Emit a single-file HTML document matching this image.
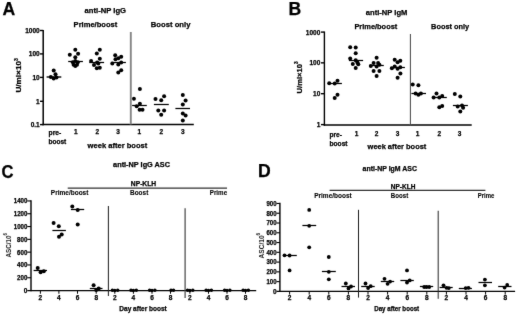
<!DOCTYPE html>
<html><head><meta charset="utf-8"><title>Figure</title>
<style>
html,body{margin:0;padding:0;background:#fff;}
body{width:520px;height:315px;overflow:hidden;}
svg{display:block;font-family:'Liberation Sans', Arial, Helvetica, sans-serif;}
</style></head><body>
<svg width="520" height="315" viewBox="0 0 520 315" font-family="'Liberation Sans', Arial, Helvetica, sans-serif" fill="#000">
<defs><filter id="soft" x="0" y="0" width="520" height="315" filterUnits="userSpaceOnUse"><feConvolveMatrix order="3" kernelMatrix="0.01 0.06 0.01 0.06 0.72 0.06 0.01 0.06 0.01" divisor="1" edgeMode="none" preserveAlpha="false"/></filter></defs>
<rect width="520" height="315" fill="#fff"/>
<g filter="url(#soft)">
<text stroke="#000" stroke-width="0.25" x="2.5" y="15" font-size="17.6" text-anchor="start" font-weight="bold" >A</text>
<text stroke="#000" stroke-width="0.25" x="84.6" y="13.3" font-size="7.5" text-anchor="start" font-weight="bold" textLength="41.4" lengthAdjust="spacingAndGlyphs" >anti-NP IgG</text>
<text stroke="#000" stroke-width="0.25" x="73.6" y="27.2" font-size="7.5" text-anchor="start" font-weight="bold" textLength="43.7" lengthAdjust="spacingAndGlyphs" >Prime/boost</text>
<text stroke="#000" stroke-width="0.25" x="150.8" y="27.1" font-size="7.5" text-anchor="start" font-weight="bold" textLength="39.6" lengthAdjust="spacingAndGlyphs" >Boost only</text>
<line x1="43.2" y1="29.9" x2="43.2" y2="125.15" stroke="#000" stroke-width="1.5"/>
<line x1="42.45" y1="124.4" x2="193.8" y2="124.4" stroke="#000" stroke-width="1.5"/>
<line x1="40.0" y1="30.5" x2="43.2" y2="30.5" stroke="#000" stroke-width="1.4"/>
<text stroke="#000" stroke-width="0.25" x="39.7" y="32.9" font-size="6.5" text-anchor="end" font-weight="bold" >1000</text>
<line x1="40.0" y1="53.9" x2="43.2" y2="53.9" stroke="#000" stroke-width="1.4"/>
<text stroke="#000" stroke-width="0.25" x="39.7" y="56.3" font-size="6.5" text-anchor="end" font-weight="bold" >100</text>
<line x1="40.0" y1="77.4" x2="43.2" y2="77.4" stroke="#000" stroke-width="1.4"/>
<text stroke="#000" stroke-width="0.25" x="39.7" y="79.80000000000001" font-size="6.5" text-anchor="end" font-weight="bold" >10</text>
<line x1="40.0" y1="101.3" x2="43.2" y2="101.3" stroke="#000" stroke-width="1.4"/>
<text stroke="#000" stroke-width="0.25" x="39.7" y="103.7" font-size="6.5" text-anchor="end" font-weight="bold" >1</text>
<line x1="40.0" y1="124.6" x2="43.2" y2="124.6" stroke="#000" stroke-width="1.4"/>
<text stroke="#000" stroke-width="0.25" x="39.7" y="127.0" font-size="6.5" text-anchor="end" font-weight="bold" >0.1</text>
<line x1="130.8" y1="32" x2="130.8" y2="124.4" stroke="#858585" stroke-width="1.9"/>
<text transform="translate(21.4,92.6) rotate(-90)" font-size="7.5" font-weight="bold" textLength="34.4" lengthAdjust="spacingAndGlyphs" stroke="#000" stroke-width="0.25">U/ml×10<tspan font-size="4.6" dy="-3.9">3</tspan></text>
<text stroke="#000" stroke-width="0.25" x="48.6" y="135.4" font-size="6.5" text-anchor="start" font-weight="bold" textLength="12.7" lengthAdjust="spacingAndGlyphs" >pre-</text>
<text stroke="#000" stroke-width="0.25" x="48.6" y="144.3" font-size="6.5" text-anchor="start" font-weight="bold" textLength="17.7" lengthAdjust="spacingAndGlyphs" >boost</text>
<text stroke="#000" stroke-width="0.25" x="75.9" y="134" font-size="6.5" text-anchor="middle" font-weight="bold" >1</text>
<text stroke="#000" stroke-width="0.25" x="97.3" y="134" font-size="6.5" text-anchor="middle" font-weight="bold" >2</text>
<text stroke="#000" stroke-width="0.25" x="118.1" y="134" font-size="6.5" text-anchor="middle" font-weight="bold" >3</text>
<text stroke="#000" stroke-width="0.25" x="139.2" y="134" font-size="6.5" text-anchor="middle" font-weight="bold" >1</text>
<text stroke="#000" stroke-width="0.25" x="161.2" y="134" font-size="6.5" text-anchor="middle" font-weight="bold" >2</text>
<text stroke="#000" stroke-width="0.25" x="182.8" y="134" font-size="6.5" text-anchor="middle" font-weight="bold" >3</text>
<text stroke="#000" stroke-width="0.25" x="87.6" y="148.2" font-size="7.5" text-anchor="start" font-weight="bold" textLength="59.7" lengthAdjust="spacingAndGlyphs" >week after boost</text>
<line x1="46.6" y1="77.0" x2="61.3" y2="77.0" stroke="#000" stroke-width="1.4"/>
<circle cx="53.7" cy="70.6" r="2.0"/>
<circle cx="55.5" cy="74.3" r="2.0"/>
<circle cx="50.8" cy="76.9" r="2.0"/>
<circle cx="56.5" cy="77.4" r="2.0"/>
<circle cx="53.7" cy="78.4" r="2.0"/>
<line x1="68.2" y1="61.5" x2="82.9" y2="61.5" stroke="#000" stroke-width="1.25"/>
<circle cx="75.3" cy="49.7" r="2.0"/>
<circle cx="78.1" cy="53.7" r="2.0"/>
<circle cx="69.8" cy="54.8" r="2.0"/>
<circle cx="75.3" cy="57.2" r="2.0"/>
<circle cx="72.8" cy="62.2" r="2.0"/>
<circle cx="75.3" cy="61.0" r="2.0"/>
<circle cx="77.8" cy="62.2" r="2.0"/>
<circle cx="73.6" cy="64.8" r="2.0"/>
<circle cx="77.0" cy="64.8" r="2.0"/>
<circle cx="75.3" cy="66.0" r="2.0"/>
<line x1="89.3" y1="62.5" x2="104.1" y2="62.5" stroke="#000" stroke-width="1.25"/>
<circle cx="99.8" cy="49.7" r="2.0"/>
<circle cx="96.8" cy="53.6" r="2.0"/>
<circle cx="99.8" cy="58.8" r="2.0"/>
<circle cx="91.1" cy="60.9" r="2.0"/>
<circle cx="97.1" cy="62.6" r="2.0"/>
<circle cx="94" cy="65" r="2.0"/>
<circle cx="98.3" cy="63.5" r="2.0"/>
<circle cx="96.8" cy="68.2" r="2.0"/>
<circle cx="99.8" cy="67.8" r="2.0"/>
<line x1="111" y1="62.5" x2="125.9" y2="62.5" stroke="#000" stroke-width="1.25"/>
<circle cx="115.2" cy="55.2" r="2.0"/>
<circle cx="121.2" cy="56.8" r="2.0"/>
<circle cx="118.3" cy="58.2" r="2.0"/>
<circle cx="115.5" cy="59.3" r="2.0"/>
<circle cx="121.2" cy="62.6" r="2.0"/>
<circle cx="112.3" cy="63.5" r="2.0"/>
<circle cx="118.3" cy="64.4" r="2.0"/>
<circle cx="121.2" cy="70.2" r="2.0"/>
<circle cx="118.3" cy="72.4" r="2.0"/>
<line x1="132" y1="105.5" x2="146.8" y2="105.5" stroke="#000" stroke-width="1.25"/>
<circle cx="139.9" cy="89.1" r="2.0"/>
<circle cx="133.9" cy="98.8" r="2.0"/>
<circle cx="139.9" cy="103.7" r="2.0"/>
<circle cx="136.7" cy="106.3" r="2.0"/>
<circle cx="139.6" cy="109.8" r="2.0"/>
<circle cx="142.5" cy="109.8" r="2.0"/>
<line x1="153.9" y1="104.5" x2="168.8" y2="104.5" stroke="#000" stroke-width="1.25"/>
<circle cx="164.1" cy="96.2" r="2.0"/>
<circle cx="155.5" cy="99" r="2.0"/>
<circle cx="161.2" cy="100.3" r="2.0"/>
<circle cx="158.3" cy="110.5" r="2.0"/>
<circle cx="164.1" cy="110.5" r="2.0"/>
<circle cx="161.2" cy="114.7" r="2.0"/>
<line x1="175.4" y1="108.5" x2="190" y2="108.5" stroke="#000" stroke-width="1.25"/>
<circle cx="182.8" cy="95.1" r="2.0"/>
<circle cx="185.6" cy="100.4" r="2.0"/>
<circle cx="182.8" cy="104.6" r="2.0"/>
<circle cx="182.8" cy="113.4" r="2.0"/>
<circle cx="185.6" cy="115.5" r="2.0"/>
<circle cx="182.8" cy="120.6" r="2.0"/>
<text stroke="#000" stroke-width="0.25" x="288.4" y="15" font-size="17.6" text-anchor="start" font-weight="bold" >B</text>
<text stroke="#000" stroke-width="0.25" x="365.8" y="14.5" font-size="7.5" text-anchor="start" font-weight="bold" textLength="41.6" lengthAdjust="spacingAndGlyphs" >anti-NP IgM</text>
<text stroke="#000" stroke-width="0.25" x="354.4" y="28.9" font-size="7.5" text-anchor="start" font-weight="bold" textLength="42.9" lengthAdjust="spacingAndGlyphs" >Prime/boost</text>
<text stroke="#000" stroke-width="0.25" x="431.1" y="28.9" font-size="7.5" text-anchor="start" font-weight="bold" textLength="38.1" lengthAdjust="spacingAndGlyphs" >Boost only</text>
<line x1="324.4" y1="31.5" x2="324.4" y2="125.7" stroke="#000" stroke-width="1.4"/>
<line x1="323.7" y1="125.0" x2="471.7" y2="125.0" stroke="#000" stroke-width="1.4"/>
<line x1="321.0" y1="32.1" x2="324.4" y2="32.1" stroke="#000" stroke-width="1.4"/>
<text stroke="#000" stroke-width="0.25" x="320.3" y="34.5" font-size="6.5" text-anchor="end" font-weight="bold" >1000</text>
<line x1="321.0" y1="62.85" x2="324.4" y2="62.85" stroke="#000" stroke-width="1.4"/>
<text stroke="#000" stroke-width="0.25" x="320.3" y="65.25" font-size="6.5" text-anchor="end" font-weight="bold" >100</text>
<line x1="321.0" y1="93.7" x2="324.4" y2="93.7" stroke="#000" stroke-width="1.4"/>
<text stroke="#000" stroke-width="0.25" x="320.3" y="96.10000000000001" font-size="6.5" text-anchor="end" font-weight="bold" >10</text>
<line x1="321.0" y1="124.6" x2="324.4" y2="124.6" stroke="#000" stroke-width="1.4"/>
<text stroke="#000" stroke-width="0.25" x="320.3" y="127.0" font-size="6.5" text-anchor="end" font-weight="bold" >1</text>
<line x1="410.4" y1="34" x2="410.4" y2="125.0" stroke="#444" stroke-width="1.0"/>
<text transform="translate(301.9,93.4) rotate(-90)" font-size="7.5" font-weight="bold" textLength="32" lengthAdjust="spacingAndGlyphs" stroke="#000" stroke-width="0.25">U/ml×10<tspan font-size="4.6" dy="-3.9">3</tspan></text>
<text stroke="#000" stroke-width="0.25" x="329.5" y="136.7" font-size="6.5" text-anchor="start" font-weight="bold" textLength="12.4" lengthAdjust="spacingAndGlyphs" >pre-</text>
<text stroke="#000" stroke-width="0.25" x="329.5" y="145.7" font-size="6.5" text-anchor="start" font-weight="bold" textLength="18.1" lengthAdjust="spacingAndGlyphs" >boost</text>
<text stroke="#000" stroke-width="0.25" x="356.5" y="136" font-size="6.5" text-anchor="middle" font-weight="bold" >1</text>
<text stroke="#000" stroke-width="0.25" x="376.6" y="136" font-size="6.5" text-anchor="middle" font-weight="bold" >2</text>
<text stroke="#000" stroke-width="0.25" x="397.6" y="136" font-size="6.5" text-anchor="middle" font-weight="bold" >3</text>
<text stroke="#000" stroke-width="0.25" x="417.5" y="136" font-size="6.5" text-anchor="middle" font-weight="bold" >1</text>
<text stroke="#000" stroke-width="0.25" x="439.3" y="136" font-size="6.5" text-anchor="middle" font-weight="bold" >2</text>
<text stroke="#000" stroke-width="0.25" x="459.5" y="136" font-size="6.5" text-anchor="middle" font-weight="bold" >3</text>
<text stroke="#000" stroke-width="0.25" x="367.6" y="148.6" font-size="7.5" text-anchor="start" font-weight="bold" textLength="58.7" lengthAdjust="spacingAndGlyphs" >week after boost</text>
<line x1="327.9" y1="83.5" x2="341.9" y2="83.5" stroke="#000" stroke-width="1.25"/>
<circle cx="329.2" cy="83.3" r="2.0"/>
<circle cx="334.7" cy="83.5" r="2.0"/>
<circle cx="337.5" cy="80.7" r="2.0"/>
<circle cx="337.5" cy="94.7" r="2.0"/>
<circle cx="334.7" cy="97.9" r="2.0"/>
<line x1="348.9" y1="60.5" x2="363.1" y2="60.5" stroke="#000" stroke-width="1.25"/>
<circle cx="350.2" cy="47.2" r="2.0"/>
<circle cx="355.7" cy="47.6" r="2.0"/>
<circle cx="355.7" cy="53.3" r="2.0"/>
<circle cx="350.2" cy="58.4" r="2.0"/>
<circle cx="355.7" cy="60.3" r="2.0"/>
<circle cx="352.8" cy="63.9" r="2.0"/>
<circle cx="357.4" cy="62.4" r="2.0"/>
<circle cx="358.3" cy="64.3" r="2.0"/>
<circle cx="355.7" cy="67.9" r="2.0"/>
<line x1="369.2" y1="65.5" x2="383.8" y2="65.5" stroke="#000" stroke-width="1.25"/>
<circle cx="376.6" cy="57.8" r="2.0"/>
<circle cx="373.6" cy="62.9" r="2.0"/>
<circle cx="378.1" cy="62.9" r="2.0"/>
<circle cx="370.8" cy="66" r="2.0"/>
<circle cx="376.6" cy="66.4" r="2.0"/>
<circle cx="379.4" cy="64.8" r="2.0"/>
<circle cx="373.6" cy="71.1" r="2.0"/>
<circle cx="379.4" cy="71.1" r="2.0"/>
<circle cx="376.6" cy="75.9" r="2.0"/>
<line x1="390.1" y1="67.5" x2="404.9" y2="67.5" stroke="#000" stroke-width="1.25"/>
<circle cx="394.7" cy="59.7" r="2.0"/>
<circle cx="400.3" cy="60.7" r="2.0"/>
<circle cx="397.6" cy="62.2" r="2.0"/>
<circle cx="394.7" cy="66.4" r="2.0"/>
<circle cx="391.9" cy="68.2" r="2.0"/>
<circle cx="400.3" cy="67.3" r="2.0"/>
<circle cx="397.6" cy="68.8" r="2.0"/>
<circle cx="400.4" cy="73.6" r="2.0"/>
<circle cx="397.6" cy="77.8" r="2.0"/>
<line x1="411.4" y1="93.5" x2="426" y2="93.5" stroke="#000" stroke-width="1.25"/>
<circle cx="412.7" cy="84.6" r="2.0"/>
<circle cx="418.4" cy="85.2" r="2.0"/>
<circle cx="415.6" cy="93.5" r="2.0"/>
<circle cx="418.4" cy="94.8" r="2.0"/>
<circle cx="420.9" cy="93.5" r="2.0"/>
<line x1="432.4" y1="97.5" x2="446.8" y2="97.5" stroke="#000" stroke-width="1.25"/>
<circle cx="436.5" cy="93.6" r="2.0"/>
<circle cx="433.6" cy="97.4" r="2.0"/>
<circle cx="439.3" cy="97.4" r="2.0"/>
<circle cx="442.2" cy="96.1" r="2.0"/>
<circle cx="439.3" cy="107.2" r="2.0"/>
<circle cx="442.2" cy="106" r="2.0"/>
<line x1="452.9" y1="105.5" x2="467.9" y2="105.5" stroke="#000" stroke-width="1.25"/>
<circle cx="454.8" cy="93.9" r="2.0"/>
<circle cx="460.3" cy="96.6" r="2.0"/>
<circle cx="457.7" cy="106.4" r="2.0"/>
<circle cx="462" cy="105.6" r="2.0"/>
<circle cx="463.1" cy="107.8" r="2.0"/>
<circle cx="460.3" cy="111.4" r="2.0"/>
<text stroke="#000" stroke-width="0.25" x="1.5" y="178.2" font-size="17.6" text-anchor="start" font-weight="bold" textLength="12" lengthAdjust="spacingAndGlyphs" >C</text>
<text stroke="#000" stroke-width="0.25" x="113.1" y="166.5" font-size="6.8" text-anchor="start" font-weight="bold" textLength="56.9" lengthAdjust="spacingAndGlyphs" >anti-NP IgG ASC</text>
<text stroke="#000" stroke-width="0.25" x="130.8" y="186" font-size="6.5" text-anchor="start" font-weight="bold" textLength="25.4" lengthAdjust="spacingAndGlyphs" >NP-KLH</text>
<line x1="67.7" y1="188.1" x2="227" y2="188.1" stroke="#333" stroke-width="1.1"/>
<text stroke="#000" stroke-width="0.1" x="50.8" y="195.1" font-size="6.5" text-anchor="start" font-weight="bold" textLength="37.6" lengthAdjust="spacingAndGlyphs" >Prime/boost</text>
<text stroke="#000" stroke-width="0.1" x="130" y="195.3" font-size="6.5" text-anchor="start" font-weight="bold" textLength="18.3" lengthAdjust="spacingAndGlyphs" >Boost</text>
<text stroke="#000" stroke-width="0.1" x="209.8" y="195.3" font-size="6.5" text-anchor="start" font-weight="bold" textLength="17.3" lengthAdjust="spacingAndGlyphs" >Prime</text>
<line x1="31.0" y1="200.35" x2="31.0" y2="291.2" stroke="#000" stroke-width="1.4"/>
<line x1="27.3" y1="290.55" x2="256.2" y2="290.55" stroke="#000" stroke-width="1.3"/>
<line x1="27.3" y1="277.75" x2="31.0" y2="277.75" stroke="#000" stroke-width="1.1"/>
<text stroke="#000" stroke-width="0.25" x="27.4" y="280.15" font-size="6.5" text-anchor="end" font-weight="bold" textLength="10.3" lengthAdjust="spacingAndGlyphs" >200</text>
<line x1="27.3" y1="264.95" x2="31.0" y2="264.95" stroke="#000" stroke-width="1.1"/>
<text stroke="#000" stroke-width="0.25" x="27.4" y="267.34999999999997" font-size="6.5" text-anchor="end" font-weight="bold" textLength="10.3" lengthAdjust="spacingAndGlyphs" >400</text>
<line x1="27.3" y1="252.15" x2="31.0" y2="252.15" stroke="#000" stroke-width="1.1"/>
<text stroke="#000" stroke-width="0.25" x="27.4" y="254.55" font-size="6.5" text-anchor="end" font-weight="bold" textLength="10.3" lengthAdjust="spacingAndGlyphs" >600</text>
<line x1="27.3" y1="239.35000000000002" x2="31.0" y2="239.35000000000002" stroke="#000" stroke-width="1.1"/>
<text stroke="#000" stroke-width="0.25" x="27.4" y="241.75000000000003" font-size="6.5" text-anchor="end" font-weight="bold" textLength="10.3" lengthAdjust="spacingAndGlyphs" >800</text>
<line x1="27.3" y1="226.55" x2="31.0" y2="226.55" stroke="#000" stroke-width="1.1"/>
<text stroke="#000" stroke-width="0.25" x="27.4" y="228.95000000000002" font-size="6.5" text-anchor="end" font-weight="bold" textLength="13.6" lengthAdjust="spacingAndGlyphs" >1000</text>
<line x1="27.3" y1="213.75" x2="31.0" y2="213.75" stroke="#000" stroke-width="1.1"/>
<text stroke="#000" stroke-width="0.25" x="27.4" y="216.15" font-size="6.5" text-anchor="end" font-weight="bold" textLength="13.6" lengthAdjust="spacingAndGlyphs" >1200</text>
<line x1="27.3" y1="200.95" x2="31.0" y2="200.95" stroke="#000" stroke-width="1.1"/>
<text stroke="#000" stroke-width="0.25" x="27.4" y="203.35" font-size="6.5" text-anchor="end" font-weight="bold" textLength="13.6" lengthAdjust="spacingAndGlyphs" >1400</text>
<text stroke="#000" stroke-width="0.25" x="27.4" y="292.95" font-size="6.5" text-anchor="end" font-weight="bold" >0</text>
<text transform="translate(11.1,257.6) rotate(-90)" font-size="6.5" font-weight="bold" textLength="24.6" lengthAdjust="spacingAndGlyphs" fill="#1a1a1a">ASC/10<tspan font-size="4.6" dy="-3.7">6</tspan></text>
<line x1="40.4" y1="290.55" x2="40.4" y2="293.75" stroke="#000" stroke-width="1.0"/>
<text stroke="#000" stroke-width="0.25" x="40.4" y="299.6" font-size="6.5" text-anchor="middle" font-weight="bold" >2</text>
<line x1="58.9" y1="290.55" x2="58.9" y2="293.75" stroke="#000" stroke-width="1.0"/>
<text stroke="#000" stroke-width="0.25" x="58.9" y="299.6" font-size="6.5" text-anchor="middle" font-weight="bold" >4</text>
<line x1="77.5" y1="290.55" x2="77.5" y2="293.75" stroke="#000" stroke-width="1.0"/>
<text stroke="#000" stroke-width="0.25" x="77.5" y="299.6" font-size="6.5" text-anchor="middle" font-weight="bold" >6</text>
<line x1="96.2" y1="290.55" x2="96.2" y2="293.75" stroke="#000" stroke-width="1.0"/>
<text stroke="#000" stroke-width="0.25" x="96.2" y="299.6" font-size="6.5" text-anchor="middle" font-weight="bold" >8</text>
<line x1="114.8" y1="290.55" x2="114.8" y2="293.75" stroke="#000" stroke-width="1.0"/>
<text stroke="#000" stroke-width="0.25" x="114.8" y="299.6" font-size="6.5" text-anchor="middle" font-weight="bold" >2</text>
<line x1="133.4" y1="290.55" x2="133.4" y2="293.75" stroke="#000" stroke-width="1.0"/>
<text stroke="#000" stroke-width="0.25" x="133.4" y="299.6" font-size="6.5" text-anchor="middle" font-weight="bold" >4</text>
<line x1="152" y1="290.55" x2="152" y2="293.75" stroke="#000" stroke-width="1.0"/>
<text stroke="#000" stroke-width="0.25" x="152" y="299.6" font-size="6.5" text-anchor="middle" font-weight="bold" >6</text>
<line x1="170.5" y1="290.55" x2="170.5" y2="293.75" stroke="#000" stroke-width="1.0"/>
<text stroke="#000" stroke-width="0.25" x="170.5" y="299.6" font-size="6.5" text-anchor="middle" font-weight="bold" >8</text>
<line x1="189.9" y1="290.55" x2="189.9" y2="293.75" stroke="#000" stroke-width="1.0"/>
<text stroke="#000" stroke-width="0.25" x="189.9" y="299.6" font-size="6.5" text-anchor="middle" font-weight="bold" >2</text>
<line x1="208.5" y1="290.55" x2="208.5" y2="293.75" stroke="#000" stroke-width="1.0"/>
<text stroke="#000" stroke-width="0.25" x="208.5" y="299.6" font-size="6.5" text-anchor="middle" font-weight="bold" >4</text>
<line x1="227" y1="290.55" x2="227" y2="293.75" stroke="#000" stroke-width="1.0"/>
<text stroke="#000" stroke-width="0.25" x="227" y="299.6" font-size="6.5" text-anchor="middle" font-weight="bold" >6</text>
<line x1="245.5" y1="290.55" x2="245.5" y2="293.75" stroke="#000" stroke-width="1.0"/>
<text stroke="#000" stroke-width="0.25" x="245.5" y="299.6" font-size="6.5" text-anchor="middle" font-weight="bold" >8</text>
<line x1="108.4" y1="206" x2="108.4" y2="296" stroke="#222" stroke-width="1.0"/>
<line x1="185.1" y1="208.3" x2="185.1" y2="298" stroke="#444" stroke-width="1.2"/>
<text stroke="#000" stroke-width="0.25" x="119.3" y="310.6" font-size="6.5" text-anchor="start" font-weight="bold" textLength="47.5" lengthAdjust="spacingAndGlyphs" >Day after boost</text>
<line x1="33.6" y1="270.5" x2="47" y2="270.5" stroke="#000" stroke-width="1.25"/>
<circle cx="37.7" cy="267.9" r="2.0"/>
<circle cx="40.6" cy="272.3" r="2.0"/>
<circle cx="43.8" cy="271.2" r="2.0"/>
<line x1="52.4" y1="230.5" x2="65.9" y2="230.5" stroke="#000" stroke-width="1.25"/>
<circle cx="53.6" cy="222.9" r="2.0"/>
<circle cx="58.8" cy="226.2" r="2.0"/>
<circle cx="61.7" cy="234.5" r="2.0"/>
<circle cx="59" cy="236.7" r="2.0"/>
<line x1="70.9" y1="209.5" x2="84.2" y2="209.5" stroke="#000" stroke-width="1.25"/>
<circle cx="72.3" cy="206.6" r="2.0"/>
<circle cx="77.7" cy="210" r="2.0"/>
<circle cx="77.7" cy="224.5" r="2.0"/>
<line x1="89.8" y1="288.5" x2="102.5" y2="288.5" stroke="#000" stroke-width="1.25"/>
<circle cx="93.6" cy="285.2" r="2.0"/>
<circle cx="98.7" cy="288.4" r="2.0"/>
<circle cx="96.2" cy="289.9" r="2.0"/>
<circle cx="112.39999999999999" cy="290.15000000000003" r="1.75"/>
<circle cx="114.8" cy="290.45" r="1.75"/>
<circle cx="117.7" cy="290.15000000000003" r="1.75"/>
<circle cx="131.0" cy="290.15000000000003" r="1.75"/>
<circle cx="133.4" cy="290.45" r="1.75"/>
<circle cx="136.3" cy="290.15000000000003" r="1.75"/>
<circle cx="149.6" cy="290.15000000000003" r="1.75"/>
<circle cx="152" cy="290.45" r="1.75"/>
<circle cx="154.9" cy="290.15000000000003" r="1.75"/>
<circle cx="171.0" cy="290.15000000000003" r="1.75"/>
<circle cx="173.5" cy="290.15000000000003" r="1.75"/>
<circle cx="187.5" cy="290.15000000000003" r="1.75"/>
<circle cx="189.9" cy="290.45" r="1.75"/>
<circle cx="192.8" cy="290.15000000000003" r="1.75"/>
<circle cx="206.1" cy="290.15000000000003" r="1.75"/>
<circle cx="208.5" cy="290.45" r="1.75"/>
<circle cx="211.4" cy="290.15000000000003" r="1.75"/>
<circle cx="224.6" cy="290.15000000000003" r="1.75"/>
<circle cx="227" cy="290.45" r="1.75"/>
<circle cx="229.9" cy="290.15000000000003" r="1.75"/>
<circle cx="243.1" cy="290.15000000000003" r="1.75"/>
<circle cx="245.5" cy="290.45" r="1.75"/>
<circle cx="248.4" cy="290.15000000000003" r="1.75"/>
<text stroke="#000" stroke-width="0.25" x="258.0" y="177.4" font-size="17.6" text-anchor="start" font-weight="bold" >D</text>
<text stroke="#000" stroke-width="0.25" x="362.6" y="170.8" font-size="6.8" text-anchor="start" font-weight="bold" textLength="54.3" lengthAdjust="spacingAndGlyphs" >anti-NP IgM ASC</text>
<text stroke="#000" stroke-width="0.25" x="390.8" y="188.9" font-size="6.5" text-anchor="start" font-weight="bold" textLength="24.6" lengthAdjust="spacingAndGlyphs" >NP-KLH</text>
<line x1="329.6" y1="190.4" x2="485.4" y2="190.4" stroke="#333" stroke-width="1.1"/>
<text stroke="#000" stroke-width="0.1" x="314.2" y="198.1" font-size="6.5" text-anchor="start" font-weight="bold" textLength="37.6" lengthAdjust="spacingAndGlyphs" >Prime/boost</text>
<text stroke="#000" stroke-width="0.1" x="390.8" y="198.1" font-size="6.5" text-anchor="start" font-weight="bold" textLength="17.4" lengthAdjust="spacingAndGlyphs" >Boost</text>
<text stroke="#000" stroke-width="0.1" x="477.7" y="198.1" font-size="6.5" text-anchor="start" font-weight="bold" textLength="16.6" lengthAdjust="spacingAndGlyphs" >Prime</text>
<line x1="279.9" y1="202.86999999999998" x2="279.9" y2="292.04999999999995" stroke="#000" stroke-width="1.4"/>
<line x1="276.5" y1="291.4" x2="515.1" y2="291.4" stroke="#000" stroke-width="1.3"/>
<line x1="276.5" y1="281.63" x2="279.9" y2="281.63" stroke="#000" stroke-width="1.1"/>
<text stroke="#000" stroke-width="0.25" x="276.6" y="284.03" font-size="6.5" text-anchor="end" font-weight="bold" textLength="10.1" lengthAdjust="spacingAndGlyphs" >100</text>
<line x1="276.5" y1="271.85999999999996" x2="279.9" y2="271.85999999999996" stroke="#000" stroke-width="1.1"/>
<text stroke="#000" stroke-width="0.25" x="276.6" y="274.25999999999993" font-size="6.5" text-anchor="end" font-weight="bold" textLength="10.1" lengthAdjust="spacingAndGlyphs" >200</text>
<line x1="276.5" y1="262.09" x2="279.9" y2="262.09" stroke="#000" stroke-width="1.1"/>
<text stroke="#000" stroke-width="0.25" x="276.6" y="264.48999999999995" font-size="6.5" text-anchor="end" font-weight="bold" textLength="10.1" lengthAdjust="spacingAndGlyphs" >300</text>
<line x1="276.5" y1="252.32" x2="279.9" y2="252.32" stroke="#000" stroke-width="1.1"/>
<text stroke="#000" stroke-width="0.25" x="276.6" y="254.72" font-size="6.5" text-anchor="end" font-weight="bold" textLength="10.1" lengthAdjust="spacingAndGlyphs" >400</text>
<line x1="276.5" y1="242.54999999999998" x2="279.9" y2="242.54999999999998" stroke="#000" stroke-width="1.1"/>
<text stroke="#000" stroke-width="0.25" x="276.6" y="244.95" font-size="6.5" text-anchor="end" font-weight="bold" textLength="10.1" lengthAdjust="spacingAndGlyphs" >500</text>
<line x1="276.5" y1="232.77999999999997" x2="279.9" y2="232.77999999999997" stroke="#000" stroke-width="1.1"/>
<text stroke="#000" stroke-width="0.25" x="276.6" y="235.17999999999998" font-size="6.5" text-anchor="end" font-weight="bold" textLength="10.1" lengthAdjust="spacingAndGlyphs" >600</text>
<line x1="276.5" y1="223.01" x2="279.9" y2="223.01" stroke="#000" stroke-width="1.1"/>
<text stroke="#000" stroke-width="0.25" x="276.6" y="225.41" font-size="6.5" text-anchor="end" font-weight="bold" textLength="10.1" lengthAdjust="spacingAndGlyphs" >700</text>
<line x1="276.5" y1="213.23999999999998" x2="279.9" y2="213.23999999999998" stroke="#000" stroke-width="1.1"/>
<text stroke="#000" stroke-width="0.25" x="276.6" y="215.64" font-size="6.5" text-anchor="end" font-weight="bold" textLength="10.1" lengthAdjust="spacingAndGlyphs" >800</text>
<line x1="276.5" y1="203.46999999999997" x2="279.9" y2="203.46999999999997" stroke="#000" stroke-width="1.1"/>
<text stroke="#000" stroke-width="0.25" x="276.6" y="205.86999999999998" font-size="6.5" text-anchor="end" font-weight="bold" textLength="10.1" lengthAdjust="spacingAndGlyphs" >900</text>
<text stroke="#000" stroke-width="0.25" x="276.6" y="293.79999999999995" font-size="6.5" text-anchor="end" font-weight="bold" >0</text>
<text transform="translate(263.9,258.4) rotate(-90)" font-size="6.5" font-weight="bold" textLength="25.6" lengthAdjust="spacingAndGlyphs" fill="#1a1a1a">ASC/10<tspan font-size="4.6" dy="-3.7">6</tspan></text>
<line x1="289.6" y1="291.4" x2="289.6" y2="294.59999999999997" stroke="#000" stroke-width="1.0"/>
<text stroke="#000" stroke-width="0.25" x="289.6" y="300.2" font-size="6.5" text-anchor="middle" font-weight="bold" >2</text>
<line x1="309.20000000000005" y1="291.4" x2="309.20000000000005" y2="294.59999999999997" stroke="#000" stroke-width="1.0"/>
<text stroke="#000" stroke-width="0.25" x="309.20000000000005" y="300.2" font-size="6.5" text-anchor="middle" font-weight="bold" >4</text>
<line x1="328.8" y1="291.4" x2="328.8" y2="294.59999999999997" stroke="#000" stroke-width="1.0"/>
<text stroke="#000" stroke-width="0.25" x="328.8" y="300.2" font-size="6.5" text-anchor="middle" font-weight="bold" >6</text>
<line x1="348.40000000000003" y1="291.4" x2="348.40000000000003" y2="294.59999999999997" stroke="#000" stroke-width="1.0"/>
<text stroke="#000" stroke-width="0.25" x="348.40000000000003" y="300.2" font-size="6.5" text-anchor="middle" font-weight="bold" >8</text>
<line x1="368.0" y1="291.4" x2="368.0" y2="294.59999999999997" stroke="#000" stroke-width="1.0"/>
<text stroke="#000" stroke-width="0.25" x="368.0" y="300.2" font-size="6.5" text-anchor="middle" font-weight="bold" >2</text>
<line x1="387.6" y1="291.4" x2="387.6" y2="294.59999999999997" stroke="#000" stroke-width="1.0"/>
<text stroke="#000" stroke-width="0.25" x="387.6" y="300.2" font-size="6.5" text-anchor="middle" font-weight="bold" >4</text>
<line x1="407.20000000000005" y1="291.4" x2="407.20000000000005" y2="294.59999999999997" stroke="#000" stroke-width="1.0"/>
<text stroke="#000" stroke-width="0.25" x="407.20000000000005" y="300.2" font-size="6.5" text-anchor="middle" font-weight="bold" >6</text>
<line x1="426.80000000000007" y1="291.4" x2="426.80000000000007" y2="294.59999999999997" stroke="#000" stroke-width="1.0"/>
<text stroke="#000" stroke-width="0.25" x="426.80000000000007" y="300.2" font-size="6.5" text-anchor="middle" font-weight="bold" >8</text>
<line x1="446.40000000000003" y1="291.4" x2="446.40000000000003" y2="294.59999999999997" stroke="#000" stroke-width="1.0"/>
<text stroke="#000" stroke-width="0.25" x="446.40000000000003" y="300.2" font-size="6.5" text-anchor="middle" font-weight="bold" >2</text>
<line x1="466.0" y1="291.4" x2="466.0" y2="294.59999999999997" stroke="#000" stroke-width="1.0"/>
<text stroke="#000" stroke-width="0.25" x="466.0" y="300.2" font-size="6.5" text-anchor="middle" font-weight="bold" >4</text>
<line x1="485.6" y1="291.4" x2="485.6" y2="294.59999999999997" stroke="#000" stroke-width="1.0"/>
<text stroke="#000" stroke-width="0.25" x="485.6" y="300.2" font-size="6.5" text-anchor="middle" font-weight="bold" >6</text>
<line x1="505.20000000000005" y1="291.4" x2="505.20000000000005" y2="294.59999999999997" stroke="#000" stroke-width="1.0"/>
<text stroke="#000" stroke-width="0.25" x="505.20000000000005" y="300.2" font-size="6.5" text-anchor="middle" font-weight="bold" >8</text>
<line x1="358.5" y1="209.8" x2="358.5" y2="297.6" stroke="#222" stroke-width="1.0"/>
<line x1="438.2" y1="210.8" x2="438.2" y2="298.8" stroke="#222" stroke-width="1.0"/>
<text stroke="#000" stroke-width="0.25" x="374.2" y="311" font-size="6.5" text-anchor="start" font-weight="bold" textLength="45" lengthAdjust="spacingAndGlyphs" >Day after boost</text>
<line x1="283.5" y1="255.5" x2="296.8" y2="255.5" stroke="#000" stroke-width="1.25"/>
<circle cx="284.5" cy="255.3" r="1.9"/>
<circle cx="289.6" cy="255.5" r="1.9"/>
<circle cx="289.6" cy="270.4" r="1.9"/>
<line x1="302.4" y1="225.5" x2="316.2" y2="225.5" stroke="#000" stroke-width="1.25"/>
<circle cx="309.2" cy="209.9" r="1.9"/>
<circle cx="309.2" cy="225.8" r="1.9"/>
<circle cx="309.2" cy="247.3" r="1.9"/>
<line x1="321.9" y1="271.5" x2="335.8" y2="271.5" stroke="#000" stroke-width="1.25"/>
<circle cx="328.8" cy="257" r="1.9"/>
<circle cx="328.8" cy="271.8" r="1.9"/>
<circle cx="328.8" cy="279.3" r="1.9"/>
<line x1="341.5" y1="286.5" x2="355" y2="286.5" stroke="#000" stroke-width="1.25"/>
<circle cx="345.8" cy="283.5" r="1.9"/>
<circle cx="351" cy="286.5" r="1.9"/>
<circle cx="348.5" cy="288.4" r="1.9"/>
<line x1="361.2" y1="286.5" x2="374.7" y2="286.5" stroke="#000" stroke-width="1.25"/>
<circle cx="365.5" cy="283.5" r="1.9"/>
<circle cx="370.7" cy="286.2" r="1.9"/>
<circle cx="368.1" cy="288.1" r="1.9"/>
<line x1="380.8" y1="281.5" x2="394.2" y2="281.5" stroke="#000" stroke-width="1.25"/>
<circle cx="384.5" cy="278.8" r="1.9"/>
<circle cx="390.1" cy="281.6" r="1.9"/>
<circle cx="387.6" cy="283.8" r="1.9"/>
<line x1="400.4" y1="280.5" x2="413.8" y2="280.5" stroke="#000" stroke-width="1.25"/>
<circle cx="407" cy="270.4" r="1.9"/>
<circle cx="409.7" cy="280.4" r="1.9"/>
<circle cx="407" cy="282.5" r="1.9"/>
<line x1="419.9" y1="286.5" x2="433.2" y2="286.5" stroke="#000" stroke-width="1.25"/>
<circle cx="424.2" cy="287" r="1.9"/>
<circle cx="426.5" cy="287" r="1.9"/>
<circle cx="429.2" cy="287" r="1.9"/>
<line x1="439.6" y1="287.5" x2="452.7" y2="287.5" stroke="#000" stroke-width="1.25"/>
<circle cx="443.5" cy="285.3" r="1.9"/>
<circle cx="446.5" cy="287.8" r="1.9"/>
<circle cx="448.8" cy="288.1" r="1.9"/>
<line x1="458.8" y1="288.5" x2="471.9" y2="288.5" stroke="#000" stroke-width="1.25"/>
<circle cx="465.7" cy="288.1" r="1.9"/>
<circle cx="468.5" cy="287.8" r="1.9"/>
<line x1="478.5" y1="282.5" x2="492" y2="282.5" stroke="#000" stroke-width="1.25"/>
<circle cx="484.9" cy="279.6" r="1.9"/>
<circle cx="484.9" cy="285.3" r="1.9"/>
<line x1="498.2" y1="286.5" x2="511.5" y2="286.5" stroke="#000" stroke-width="1.25"/>
<circle cx="507.2" cy="285" r="1.9"/>
<circle cx="504.6" cy="287.6" r="1.9"/>
</g>
</svg>
</body></html>
